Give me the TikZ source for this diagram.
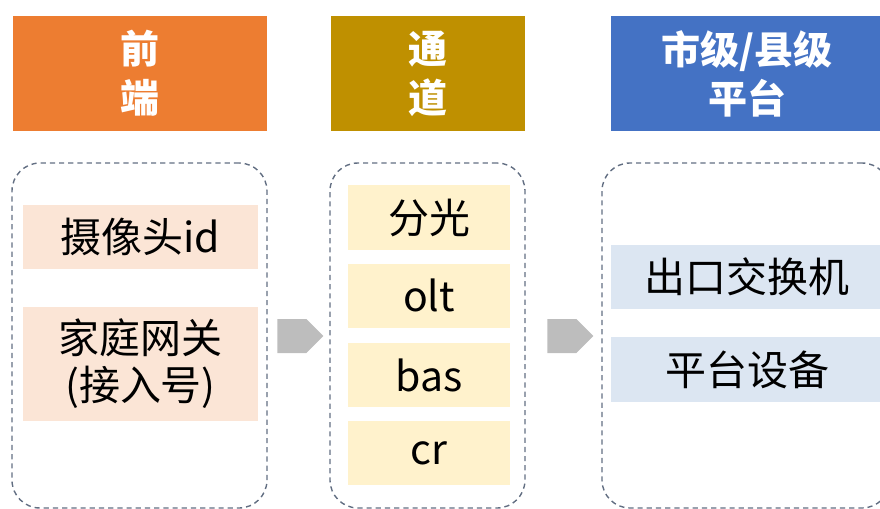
\documentclass[tikz,border=0pt]{standalone}
\usepackage{fontspec}
\newfontfamily\cjk{Noto Sans CJK SC}
\usetikzlibrary{shapes.symbols}

\definecolor{qdorange}{HTML}{ED7D31}
\definecolor{tdgold}{HTML}{BF9000}
\definecolor{ptblue}{HTML}{4472C4}
\definecolor{qdfill}{HTML}{FBE5D6}
\definecolor{tdfill}{HTML}{FFF2CC}
\definecolor{ptfill}{HTML}{DCE6F2}
\definecolor{dashgray}{HTML}{626E82}
\definecolor{flowgray}{HTML}{BDBDBD}

\begin{document}
\begin{tikzpicture}[x=0.5pt,y=-0.5pt,
  head/.style={fill=#1, text=white, align=center,
    font=\cjk\bfseries\fontsize{19.5pt}{24.5pt}\selectfont,
    minimum height=57.5pt, inner sep=0pt},
  group/.style={draw=dashgray, line width=0.7pt,
    dash pattern=on 2.6pt off 2pt, rounded corners=14pt,
    minimum height=172.5pt, inner sep=0pt},
  item/.style={fill=#1, align=center,
    font=\cjk\fontsize{20.5pt}{23.5pt}\selectfont,
    minimum height=32pt, inner sep=0pt},
  flow/.style={signal, signal to=east, signal pointer angle=90,
    fill=flowgray, minimum width=23pt, minimum height=17pt,
    inner sep=0pt, anchor=west}]

\useasboundingbox (0,0) rectangle (880,509);
\clip (0,0) rectangle (880,509);

%--------------------
% 标题
%--------------------
\node[head=qdorange, minimum width=127pt] (front) at (139.7,73.5) {前\\端};
\node[head=tdgold, minimum width=97.15pt] (channel) at (427.85,73.5) {通\\道};
\node[head=ptblue, minimum width=136pt] (platform) at (747,73.5) {市级/县级\\平台};

%--------------------
% 虚线分组
%--------------------
\node[group, minimum width=127.5pt] (frontgrp) at (139.5,335.5) {};
\node[group, minimum width=97.5pt] (channelgrp) at (427.5,335.5) {};
\node[group, minimum width=144pt] (platformgrp) at (746,335.5) {};

%--------------------
% 前端
%--------------------
\node[item=qdfill, minimum width=117.5pt] (camera) at (140.5,237) {摄像头id};
\node[item=qdfill, minimum width=117.5pt, minimum height=57pt] (gateway) at (140.5,364)
  {家庭网关\\(接入号)};

%--------------------
% 通道
%--------------------
\node[item=tdfill, minimum width=81pt, minimum height=32.5pt] (split) at (429,217.5) {分光};
\node[item=tdfill, minimum width=81pt] (olt) at (429,295.5) {olt};
\node[item=tdfill, minimum width=81pt] (bas) at (429,375) {bas};
\node[item=tdfill, minimum width=81pt] (cr) at (429,453) {cr};

%--------------------
% 平台
%--------------------
\node[item=ptfill, minimum width=136pt] (exitsw) at (747,277) {出口交换机};
\node[item=ptfill, minimum width=136pt, minimum height=32.5pt] (device) at (747,369.5) {平台设备};

% 流向箭头
\node[flow] (flow1) at (277,336) {};
\node[flow] (flow2) at (547,336) {};

\end{tikzpicture}
\end{document}
